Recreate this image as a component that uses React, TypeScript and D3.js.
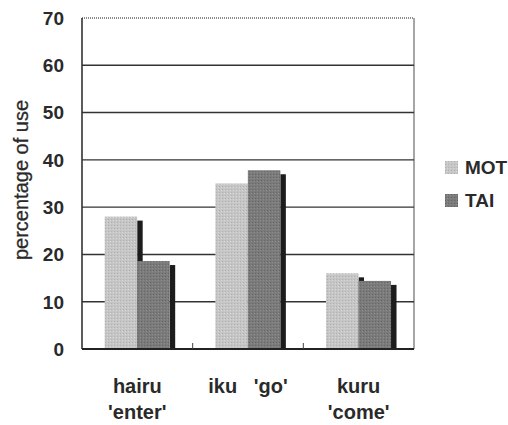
import React from "react";
import * as d3 from "d3";

const categories = ["hairu\n'enter'", "iku   'go'", "kuru\n'come'"];
const seriesNames = ["MOT", "TAI"];
const motValues = [28, 35, 16];
const taiValues = [18.6, 37.8, 14.4];
const yTicks = [0, 10, 20, 30, 40, 50, 60, 70];

const W = 508;
const H = 425;
const left = 82;
const right = 414;
const top = 18;
const bottom = 349;
const colors: Record<string, string> = { MOT: "#c6c6c6", TAI: "#7b7b7b" };
const sideColor = "#1c1c1c";
const font = "'Liberation Sans', Arial, sans-serif";
const textColor = "#2a2a2a";

export default function App() {
  const x = d3.scaleBand<string>().domain(categories).range([left, right]).padding(0);
  const y = d3.scaleLinear().domain([0, 70]).range([bottom, top]);
  const bw = x.bandwidth();
  const inner = d3
    .scaleBand<string>()
    .domain(seriesNames)
    .range([bw * 0.205, bw * 0.205 + 65])
    .padding(0);
  const series = [
    { name: "MOT", values: motValues },
    { name: "TAI", values: taiValues },
  ];
  const sideW = 5.5;
  const sideDrop = 4;

  return (
    <svg
      width={W}
      height={H}
      style={{ position: "absolute", left: 0, top: 0, background: "#fff" }}
      fontFamily={font}
    >
      <defs>
        <pattern id="stipL" width="3" height="3" patternUnits="userSpaceOnUse">
          <rect width="3" height="3" fill={colors.MOT} />
          <rect x="0" y="0" width="1" height="1" fill="#b0b0b0" />
          <rect x="2" y="1" width="1" height="1" fill="#d6d6d6" />
        </pattern>
        <pattern id="stipD" width="3" height="3" patternUnits="userSpaceOnUse">
          <rect width="3" height="3" fill={colors.TAI} />
          <rect x="0" y="0" width="1" height="1" fill="#666" />
          <rect x="2" y="1" width="1" height="1" fill="#8c8c8c" />
        </pattern>
      </defs>
      {/* plot frame top/right */}
      <line x1={left} x2={right} y1={top} y2={top} stroke="#666" strokeWidth={1.6} strokeDasharray="1 1" />
      <line x1={right} x2={right} y1={top} y2={bottom} stroke="#888" strokeWidth={1.5} />
      {/* gridlines */}
      {yTicks.filter((t) => t > 0 && t < 70).map((t) => (
        <line key={t} x1={left} x2={right} y1={y(t)} y2={y(t)} stroke="#333" strokeWidth={1.4} />
      ))}
      {/* bars */}
      {categories.map((c, i) => (
        <g key={c}>
          {series.map((s) => {
            const x0 = (x(c) as number) + (inner(s.name) as number);
            const w = inner.bandwidth();
            const yt = y(s.values[i]);
            return (
              <g key={s.name}>
                <rect x={x0 + w} y={yt + sideDrop} width={sideW} height={bottom - yt - sideDrop} fill={sideColor} />
                <rect x={x0} y={yt} width={w} height={bottom - yt} fill={s.name === "MOT" ? "url(#stipL)" : "url(#stipD)"} />
              </g>
            );
          })}
        </g>
      ))}
      {/* left axis */}
      <line x1={left} x2={left} y1={top} y2={bottom} stroke="#333" strokeWidth={1.6} />
      {/* bottom axis */}
      <line x1={left} x2={right} y1={bottom} y2={bottom} stroke="#222" strokeWidth={2.2} />
      {categories.slice(1).map((c) => (
        <line key={c} x1={x(c) as number} x2={x(c) as number} y1={bottom} y2={bottom - 6} stroke="#444" strokeWidth={1} />
      ))}
      {/* y tick labels */}
      {yTicks.map((t) => (
        <text key={t} x={64} y={y(t)} dy="0.36em" textAnchor="end" fontSize={19} fontWeight="bold" fill={textColor}>
          {t}
        </text>
      ))}
      {/* y axis title */}
      <text
        transform={`translate(28,180) rotate(-90)`}
        textAnchor="middle"
        fontSize={20}
        fill={textColor}
        stroke={textColor}
        strokeWidth={0.3}
      >
        percentage of use
      </text>
      {/* x labels */}
      {categories.map((c) => {
        const lines = c.split("\n");
        const cx = (x(c) as number) + bw / 2;
        return (
          <text key={c} x={cx} y={393} textAnchor="middle" fontSize={20} fontWeight="bold" fill={textColor} style={{ whiteSpace: "pre" }}>
            {lines.map((l, j) => (
              <tspan key={j} x={cx} dy={j === 0 ? 0 : 26}>
                {l}
              </tspan>
            ))}
          </text>
        );
      })}
      {/* legend */}
      {seriesNames.map((n, j) => (
        <g key={n} transform={`translate(445,${161 + j * 33})`}>
          <rect width={13} height={13} fill={n === "MOT" ? "url(#stipL)" : "url(#stipD)"} />
          <text x={20} y={13} fontSize={19} fontWeight="bold" fill={textColor}>
            {n}
          </text>
        </g>
      ))}
    </svg>
  );
}
